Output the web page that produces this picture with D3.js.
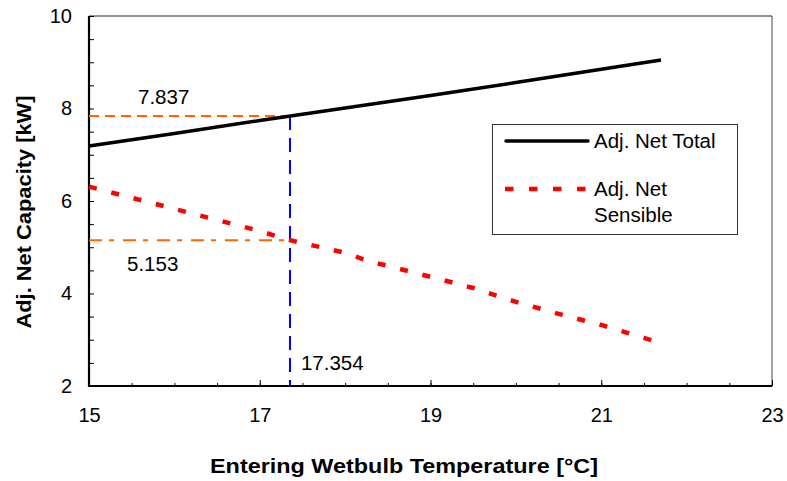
<!DOCTYPE html>
<html>
<head>
<meta charset="utf-8">
<script src="https://cdn.jsdelivr.net/npm/d3@7"></script>
<style>
  html, body { margin: 0; padding: 0; background: #fff; }
  svg text { font-family: "Liberation Sans", Arial, sans-serif; fill: #000; }
</style>
</head>
<body>
<svg id="chart" width="787" height="481"></svg>
<script>
// Entering wetbulb temperature [°C]
const totalTemps = [15, 16, 17, 18, 19, 20, 21, 21.7];
const totalValues = [7.19, 7.46, 7.74, 8.01, 8.28, 8.56, 8.85, 9.05];

const sensibleTemps = [15, 15.5, 16, 16.5, 17, 17.354, 17.5, 18, 18.3, 18.5, 19, 19.5, 20, 20.5, 21, 21.5, 21.7];
const sensibleValues = [6.31, 6.07, 5.83, 5.59, 5.35, 5.153, 5.09, 4.88, 4.68, 4.60, 4.36, 4.12, 3.82, 3.56, 3.32, 3.04, 2.93];

// Operating point marked with guide lines
const pointTemp = [17.354];
const pointTotal = [7.837];
const pointSensible = [5.153];

const xTickLabels = [15, 17, 19, 21, 23];
const yTickLabels = [2, 4, 6, 8, 10];
const seriesNames = ["Adj. Net Total", "Adj. Net", "Sensible"];

const svg = d3.select("#chart");
const x = d3.scaleLinear().domain([15, 23]).range([89, 772]);
const y = d3.scaleLinear().domain([2, 10]).range([386, 16]);

const minorX = d3.range(15, 23.01, 0.5);
const minorY = d3.range(2, 10.01, 0.5);

// Frame: thin top/right, heavy left/bottom
svg.append("line").attr("x1", x(15)).attr("x2", x(23)).attr("y1", y(10)).attr("y2", y(10))
  .attr("stroke", "#222").attr("stroke-width", 1);
svg.append("line").attr("x1", x(23)).attr("x2", x(23)).attr("y1", y(10)).attr("y2", y(2))
  .attr("stroke", "#444").attr("stroke-width", 1);

// X axis: minor ticks, then labelled major ticks (pointing inward)
const gxMinor = svg.append("g").attr("transform", `translate(0,${y(2)})`)
  .call(d3.axisBottom(x).tickValues(minorX).tickSize(-3).tickFormat(""));
const gx = svg.append("g").attr("transform", `translate(0,${y(2)})`)
  .call(d3.axisBottom(x).tickValues(xTickLabels).tickSize(-6).tickPadding(22).tickFormat(d3.format("d")));
[gxMinor, gx].forEach(g => { g.select(".domain").remove(); g.selectAll("line").attr("stroke", "#000"); });
gx.selectAll("text").attr("font-size", 20).attr("font-family", "Liberation Sans, Arial, sans-serif");

// Y axis
const gy = svg.append("g").attr("transform", `translate(${x(15)},0)`)
  .call(d3.axisLeft(y).tickValues(minorY).tickSize(-5).tickPadding(17)
    .tickFormat(d => yTickLabels.includes(d) ? d3.format("d")(d) : ""));
gy.select(".domain").remove();
gy.selectAll("line").attr("stroke", "#000");
gy.selectAll("text").attr("font-size", 20).attr("font-family", "Liberation Sans, Arial, sans-serif");

svg.append("line").attr("x1", x(15)).attr("x2", x(15)).attr("y1", y(10)).attr("y2", y(2) + 1)
  .attr("stroke", "#000").attr("stroke-width", 2.2);
svg.append("line").attr("x1", x(15) - 1).attr("x2", x(23)).attr("y1", y(2)).attr("y2", y(2))
  .attr("stroke", "#000").attr("stroke-width", 2.2);

// Guide lines through the operating point
svg.append("line")
  .attr("x1", x(15)).attr("x2", x(pointTemp[0]))
  .attr("y1", y(pointTotal[0])).attr("y2", y(pointTotal[0]))
  .attr("stroke", "#FF6600").attr("stroke-width", 2).attr("stroke-dasharray", "10,6");
svg.append("line")
  .attr("x1", x(15)).attr("x2", x(pointTemp[0]))
  .attr("y1", y(pointSensible[0])).attr("y2", y(pointSensible[0]))
  .attr("stroke", "#FF6600").attr("stroke-width", 2).attr("stroke-dasharray", "13,7,5,9");
svg.append("line")
  .attr("x1", x(pointTemp[0])).attr("x2", x(pointTemp[0]))
  .attr("y1", y(pointTotal[0])).attr("y2", y(2))
  .attr("stroke", "#0000FF").attr("stroke-width", 2).attr("stroke-dasharray", "14,8");

// Series lines
const line = d3.line().x(d => x(d[0])).y(d => y(d[1]));
svg.append("path")
  .datum(d3.zip(totalTemps, totalValues))
  .attr("d", line).attr("fill", "none")
  .attr("stroke", "#000").attr("stroke-width", 3.5);
svg.append("path")
  .datum(d3.zip(sensibleTemps, sensibleValues))
  .attr("d", line).attr("fill", "none")
  .attr("stroke", "#FF0000").attr("stroke-width", 4.5).attr("stroke-dasharray", "8,15");

// Value annotations
svg.append("text").attr("x", x(15) + 49).attr("y", y(pointTotal[0]) - 12)
  .attr("font-size", 20.5).text(d3.format(".3f")(pointTotal[0]));
svg.append("text").attr("x", x(15) + 38).attr("y", y(pointSensible[0]) + 31)
  .attr("font-size", 20.5).text(d3.format(".3f")(pointSensible[0]));
svg.append("text").attr("x", x(pointTemp[0]) + 11).attr("y", 370)
  .attr("font-size", 20.5).text(d3.format(".3f")(pointTemp[0]));

// Legend
const lg = svg.append("g");
lg.append("rect").attr("x", 492.5).attr("y", 124.5).attr("width", 245).attr("height", 110)
  .attr("fill", "#fff").attr("stroke", "#333").attr("stroke-width", 1);
lg.append("line").attr("x1", 506).attr("x2", 588).attr("y1", 141).attr("y2", 141)
  .attr("stroke", "#000").attr("stroke-width", 3.5).attr("stroke-linecap", "round");
lg.append("line").attr("x1", 505).attr("x2", 590).attr("y1", 189).attr("y2", 189)
  .attr("stroke", "#FF0000").attr("stroke-width", 4.5).attr("stroke-dasharray", "8.5,15.5");
lg.append("text").attr("x", 594).attr("y", 148).attr("font-size", 20.5).text(seriesNames[0]);
lg.append("text").attr("x", 594).attr("y", 196).attr("font-size", 20.5).text(seriesNames[1]);
lg.append("text").attr("x", 594).attr("y", 222).attr("font-size", 20.5).text(seriesNames[2]);

// Axis titles
svg.append("text").attr("x", 404).attr("y", 473).attr("text-anchor", "middle")
  .attr("font-size", 20.5).attr("font-weight", "bold")
  .attr("textLength", 388).attr("lengthAdjust", "spacingAndGlyphs")
  .text("Entering  Wetbulb Temperature [°C]");
svg.append("text").attr("transform", "translate(31,212) rotate(-90)").attr("text-anchor", "middle")
  .attr("font-size", 20).attr("font-weight", "bold")
  .attr("textLength", 233).attr("lengthAdjust", "spacingAndGlyphs")
  .text("Adj. Net Capacity [kW]");
</script>
</body>
</html>
